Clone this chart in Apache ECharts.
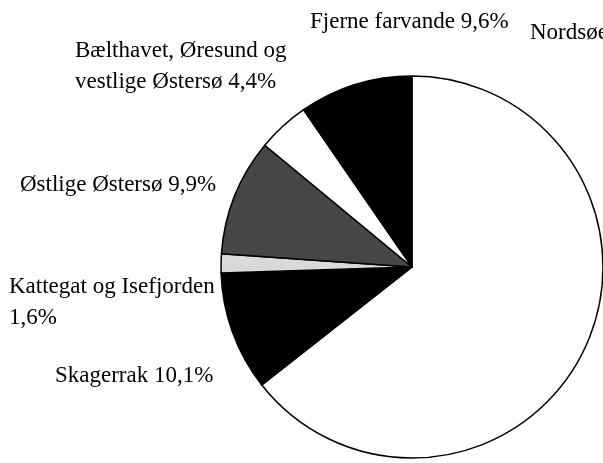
<!DOCTYPE html>
<html>
<head>
<meta charset="utf-8">
<script src="https://cdn.jsdelivr.net/npm/echarts@6/dist/echarts.min.js"></script>
<style>
  html, body { margin: 0; padding: 0; background: #fff; }
  #chart { width: 603px; height: 463px; }
</style>
</head>
<body>
<div id="chart"></div>
<script>
// fangstområder, andel i procent
const areas = ['Nordsøen', 'Skagerrak', 'Kattegat og Isefjorden', 'Østlige Østersø', 'Bælthavet, Øresund og\nvestlige Østersø', 'Fjerne farvande'];
const shares = [64.4, 10.1, 1.6, 9.9, 4.4, 9.6];
const fills = ['#ffffff', '#000000', '#d9d9d9', '#464646', '#ffffff', '#000000'];
// label anchor (left x, middle y) for each slice
const labelPos = [[530, 33], [55, 376], [9, 302], [20, 185], [75, 66], [310, 22]];

const myChart = echarts.init(document.getElementById('chart'));
const option = {
  backgroundColor: '#fff',
  animation: false,
  series: [{
    type: 'pie',
    center: [412, 267],
    radius: 191,
    startAngle: 90,
    clockwise: true,
    avoidLabelOverlap: false,
    itemStyle: { borderColor: '#000', borderWidth: 1.5 },
    label: {
      show: true,
      position: 'outside',
      fontFamily: 'Liberation Serif',
      fontSize: 23,
      lineHeight: 31,
      color: '#000',
      formatter: function (p) {
        const pct = p.value.toFixed(1).replace('.', ',') + '%';
        return p.name + (p.dataIndex === 2 ? '\n' : ' ') + pct;
      }
    },
    labelLine: { show: false },
    labelLayout: function (params) {
      const pos = labelPos[params.dataIndex];
      return { x: pos[0], y: pos[1], align: 'left', verticalAlign: 'middle' };
    },
    emphasis: { disabled: true },
    data: areas.map(function (name, i) {
      return { name: name, value: shares[i], itemStyle: { color: fills[i] } };
    })
  }]
};
myChart.setOption(option);
</script>
</body>
</html>
